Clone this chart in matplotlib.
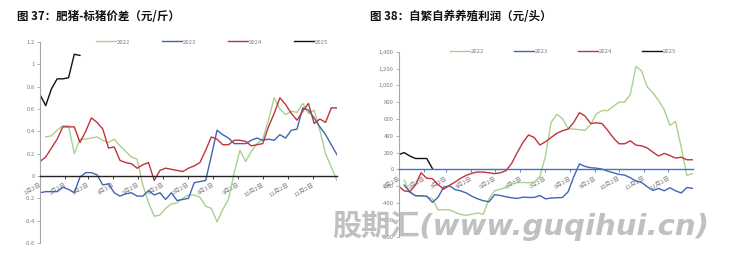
import matplotlib
matplotlib.use("Agg")
import matplotlib.pyplot as plt
import numpy as np

plt.rcParams['font.family'] = ['Noto Sans CJK SC', 'DejaVu Sans']
plt.rcParams['axes.unicode_minus'] = False

# ---------------- data ----------------
month_labels = ["1月2日", "2月2日", "3月2日", "4月2日", "5月2日", "6月2日",
                "7月2日", "8月2日", "9月2日", "10月2日", "11月2日", "12月2日"]
month_days = [0, 31, 59, 90, 120, 151, 181, 212, 243, 273, 304, 334]
series_names = ["2022", "2023", "2024", "2025"]

# Fig 37: fat pig - standard pig price spread (yuan/jin), weekly
spread_2022 = [0.35, 0.36, 0.41, 0.45, 0.45, 0.20, 0.33, 0.33, 0.34, 0.35, 0.32, 0.30,
               0.33, 0.27, 0.22, 0.17, 0.15, -0.08, -0.24, -0.36, -0.35, -0.29, -0.25,
               -0.24, -0.20, -0.17, -0.17, -0.19, -0.27, -0.29, -0.41, -0.30, -0.21, 0.03,
               0.23, 0.13, 0.22, 0.29, 0.33, 0.50, 0.70, 0.60, 0.55, 0.58, 0.57, 0.65,
               0.56, 0.59, 0.41, 0.20, 0.08, -0.04]          # weeks 1..52
spread_2023 = [-0.15, -0.14, -0.14, -0.14, -0.10, -0.12, -0.15, -0.01, 0.03, 0.03, 0.01,
               -0.08, -0.07, -0.15, -0.18, -0.16, -0.15, -0.18, -0.18, -0.13, -0.17, -0.15,
               -0.21, -0.15, -0.22, -0.21, -0.20, -0.06, -0.05, -0.04, 0.18, 0.41, 0.37,
               0.34, 0.29, 0.29, 0.29, 0.32, 0.34, 0.32, 0.33, 0.32, 0.37, 0.34, 0.41,
               0.42, 0.61, 0.59, 0.52, 0.44, 0.37, 0.28, 0.19]  # weeks 0..52
spread_2024 = [0.13, 0.17, 0.25, 0.33, 0.44, 0.44, 0.44, 0.30, 0.40, 0.52, 0.48, 0.42,
               0.25, 0.26, 0.14, 0.12, 0.11, 0.07, 0.10, 0.12, -0.04, 0.05, 0.07, 0.06,
               0.05, 0.04, 0.07, 0.09, 0.12, 0.23, 0.35, 0.33, 0.28, 0.28, 0.32, 0.32,
               0.31, 0.27, 0.28, 0.29, 0.44, 0.56, 0.70, 0.64, 0.56, 0.50, 0.58, 0.65,
               0.47, 0.51, 0.48, 0.61, 0.61]                  # weeks 0..52
spread_2025 = [0.73, 0.63, 0.78, 0.87, 0.87, 0.88, 1.09, 1.08]  # weeks 0..7

# Fig 38: self-breeding farming profit (yuan/head), weekly
profit_2022 = [-127, -275, -313, -318, -325, -350, -482, -478, -480, -510, -535, -545,
               -533, -518, -533, -350, -255, -235, -215, -165, -158, -155, -158, -150,
               -85, 160, 560, 655, 605, 485, 480, 472, 465, 535, 660, 700, 700, 750,
               800, 800, 890, 1225, 1170, 980, 910, 820, 710, 525, 570, 265, -70, -50]  # weeks 1..52
profit_2023 = [-186, -266, -313, -313, -318, -392, -330, -210, -195, -240, -255, -280,
               -320, -350, -372, -385, -300, -310, -325, -337, -345, -330, -333, -333,
               -310, -350, -340, -337, -333, -266, -87, 65, 35, 20, 15, 4, -20, -40,
               -59, -67, -99, -139, -155, -206, -250, -226, -254, -218, -254, -280,
               -215, -225]                                    # weeks 1..52
profit_2024 = [-195, -255, -265, -185, -40, -105, -110, -180, -235, -190, -150, -105,
               -70, -45, -30, -32, -40, -50, -40, -15, 70, 200, 320, 410, 380, 290, 330,
               380, 430, 460, 480, 560, 675, 635, 545, 555, 545, 465, 375, 305, 305, 340,
               290, 280, 255, 205, 160, 190, 165, 135, 145, 115, 115]  # weeks 0..52
profit_2025 = [175, 200, 160, 130, 130, 130, 10]              # weeks 0..6

colors = {"2022": "#a9d18e", "2023": "#3f65b4", "2024": "#c0333b", "2025": "#111111"}
gray = "#7f7f7f"
fs_small = 4.3

fig = plt.figure(figsize=(7.31, 2.54), dpi=100)


def weeks_from(start, vals):
    return np.arange(start, start + len(vals))


def style_axes(ax, zero_color, ylim, yticks, yticklabels):
    ax.set_xlim(0, 52)
    ax.set_ylim(*ylim)
    for s in ["top", "right"]:
        ax.spines[s].set_visible(False)
    ax.spines["left"].set_color("#a6a6a6")
    ax.spines["left"].set_linewidth(0.8)
    ax.spines["bottom"].set_position(("data", 0))
    ax.spines["bottom"].set_color(zero_color)
    ax.spines["bottom"].set_linewidth(1.0)
    ax.set_yticks(yticks)
    ax.set_yticklabels(yticklabels)
    ax.set_xticks([d / 7 for d in month_days])
    ax.set_xticklabels(month_labels, rotation=30, ha="right", rotation_mode="anchor")
    ax.tick_params(axis="y", length=2, width=0.6, color="#a6a6a6", labelsize=fs_small,
                   labelcolor=gray, pad=1.5)
    ax.tick_params(axis="x", length=2, width=0.6, color=zero_color, labelsize=fs_small,
                   labelcolor=gray, pad=2.5)
    for lab in ax.get_xticklabels() + ax.get_yticklabels():
        lab.set_family(['Noto Sans CJK SC', 'DejaVu Sans'])
    ax.patch.set_alpha(0)


# ---------------- left chart ----------------
ax1 = fig.add_axes([40 / 731, 1 - 243 / 254, 297 / 731, 201 / 254])
ax1.plot(weeks_from(1, spread_2022), spread_2022, color=colors["2022"], lw=1.0, label="2022")
ax1.plot(weeks_from(0, spread_2023), spread_2023, color=colors["2023"], lw=1.0, label="2023")
ax1.plot(weeks_from(0, spread_2024), spread_2024, color=colors["2024"], lw=1.0, label="2024")
ax1.plot(weeks_from(0, spread_2025), spread_2025, color=colors["2025"], lw=1.0, label="2025")
yt1 = [-0.6, -0.4, -0.2, 0, 0.2, 0.4, 0.6, 0.8, 1.0, 1.2]
style_axes(ax1, "#222222", (-0.6, 1.2), yt1,
           ["-0.6", "-0.4", "-0.2", "0", "0.2", "0.4", "0.6", "0.8", "1", "1.2"])
ax1.legend(loc="center", bbox_to_anchor=(0.58, 1.0), ncol=4, frameon=False,
           fontsize=fs_small, labelcolor=gray, handlelength=3.3, handletextpad=0.2,
           columnspacing=5.3)

# ---------------- right chart ----------------
ax2 = fig.add_axes([398.5 / 731, 1 - 236.7 / 254, 294 / 731, 185 / 254])
ax2.plot(weeks_from(1, profit_2022), profit_2022, color=colors["2022"], lw=1.0, label="2022")
ax2.plot(weeks_from(1, profit_2023), profit_2023, color=colors["2023"], lw=1.0, label="2023")
ax2.plot(weeks_from(0, profit_2024), profit_2024, color=colors["2024"], lw=1.0, label="2024")
ax2.plot(weeks_from(0, profit_2025), profit_2025, color=colors["2025"], lw=1.0, label="2025")
yt2 = list(range(-800, 1401, 200))
style_axes(ax2, "#4472c4", (-800, 1400), yt2, [f"{v:,}" for v in yt2])
ax2.legend(loc="center", bbox_to_anchor=(0.56, 1.0), ncol=4, frameon=False,
           fontsize=fs_small, labelcolor=gray, handlelength=3.3, handletextpad=0.2,
           columnspacing=5.0)

# ---------------- titles ----------------
fig.text(17 / 731, 1 - 17 / 254, "图 37：肥猪-标猪价差（元/斤）", fontsize=8.3,
         fontweight="bold", va="center", ha="left", color="#111111",
         family=['Noto Sans CJK SC', 'DejaVu Sans'])
fig.text(370 / 731, 1 - 17 / 254, "图 38：自繁自养养殖利润（元/头）", fontsize=8.3,
         fontweight="bold", va="center", ha="left", color="#111111",
         family=['Noto Sans CJK SC', 'DejaVu Sans'])

# ---------------- watermark ----------------
fig.text(332 / 731, 1 - 226 / 254, "股期汇(www.guqihui.cn)", fontsize=21,
         fontweight="bold", style="italic", color="#bdbdbd", alpha=0.95,
         va="center", ha="left", zorder=10,
         family=['DejaVu Sans', 'Noto Sans CJK SC'])

fig.savefig("out.png", dpi=100)
